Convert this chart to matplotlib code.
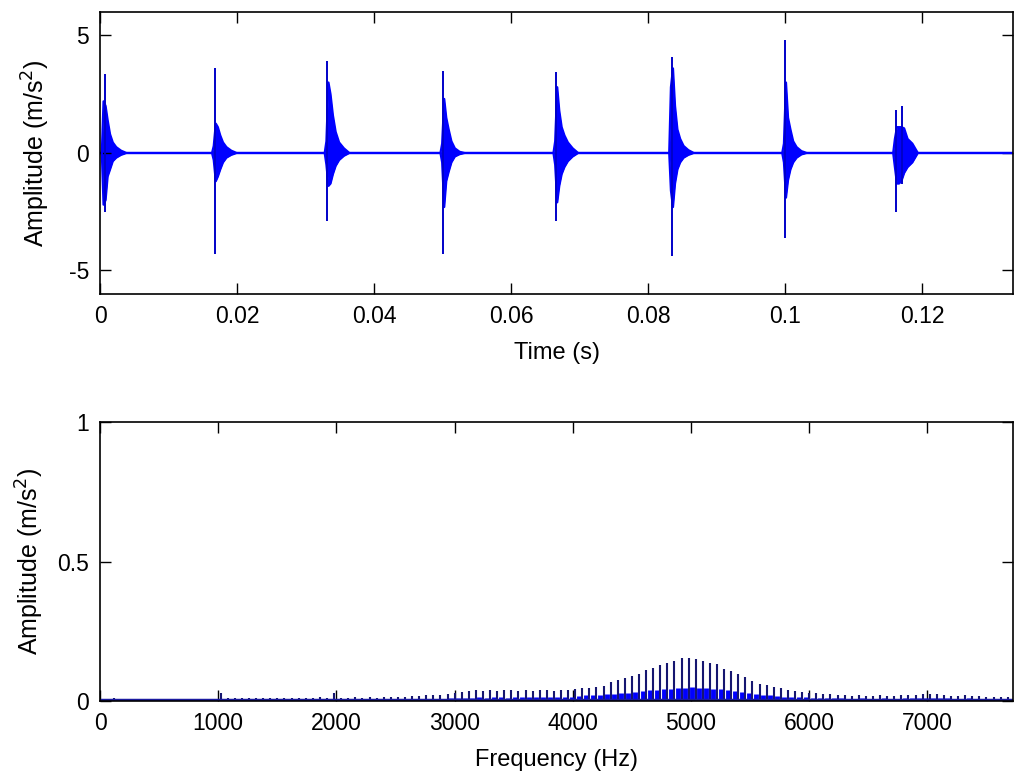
import numpy as np
import matplotlib.pyplot as plt

plt.rcParams['font.family'] = ['Liberation Sans', 'DejaVu Sans']
plt.rcParams['axes.unicode_minus'] = False

# ---- time signal: 8 impact bursts ----
t_end = 0.1333
burst_t = [0.00066, 0.01675, 0.0332, 0.0501, 0.0666, 0.0835, 0.1000, 0.1162]
# envelope sample offsets (ms) relative to each burst's main spike
env_ms = [-0.4, -0.15, 0.15, 0.45, 0.8, 1.2, 1.7, 2.4, 3.2]
env_pos = [
    [0, 2.2, 2.0, 1.4, 0.8, 0.45, 0.25, 0.1, 0],
    [0, 0.3, 1.25, 1.1, 0.75, 0.45, 0.25, 0.1, 0],
    [0, 0.5, 3.0, 2.5, 1.6, 0.9, 0.45, 0.2, 0],
    [0, 0.4, 2.3, 1.5, 1.0, 0.5, 0.2, 0.05, 0],
    [0, 0.5, 2.8, 1.8, 1.1, 0.75, 0.45, 0.2, 0],
    [0, 2.8, 3.6, 2.0, 1.0, 0.6, 0.3, 0.12, 0],
    [0, 0.4, 3.0, 1.5, 1.0, 0.5, 0.25, 0.08, 0],
    [0, 0.6, 1.1, 1.1, 1.1, 1.05, 0.6, 0.4, 0],
]
env_neg = [
    [0, -2.2, -2.0, -1.0, -0.7, -0.35, -0.2, -0.08, 0],
    [0, -0.3, -1.2, -1.0, -0.7, -0.4, -0.2, -0.08, 0],
    [0, -0.5, -1.4, -1.3, -0.9, -0.55, -0.3, -0.12, 0],
    [0, -0.4, -2.3, -1.2, -0.8, -0.4, -0.15, -0.05, 0],
    [0, -0.5, -2.1, -1.4, -0.9, -0.6, -0.35, -0.15, 0],
    [0, -1.6, -2.3, -1.3, -0.7, -0.4, -0.2, -0.08, 0],
    [0, -0.4, -1.9, -1.15, -0.7, -0.4, -0.2, -0.06, 0],
    [0, -0.6, -1.3, -1.3, -1.2, -0.85, -0.6, -0.4, 0],
]
spike_t = [0.00066, 0.01675, 0.0332, 0.0501, 0.0666, 0.0835, 0.1000, 0.1162, 0.1171]
spike_pos = [3.35, 3.6, 3.9, 3.5, 3.45, 4.1, 4.8, 1.85, 2.0]
spike_neg = [-2.5, -4.3, -2.9, -4.3, -2.9, -4.4, -3.6, -2.5, -1.3]

# ---- spectrum: harmonics of the 60 Hz impact rate ----
fault_hz = 60
harm_amp = [
    0.008, 0.010, 0.006, 0.008, 0.005, 0.007, 0.004, 0.006, 0.004, 0.005, 0.003, 0.005, 0.004, 0.005, 0.004, 0.006,
    0.030, 0.011, 0.012, 0.011, 0.012, 0.012, 0.011, 0.012, 0.012, 0.011, 0.012, 0.012, 0.011, 0.012, 0.013, 0.012,
    0.028, 0.012, 0.012, 0.013, 0.012, 0.013, 0.012, 0.014, 0.014, 0.015, 0.016, 0.017, 0.018, 0.020, 0.021, 0.023,
    0.024, 0.030, 0.034, 0.036, 0.038, 0.035, 0.039, 0.037, 0.040, 0.038, 0.036, 0.039, 0.037, 0.040, 0.038, 0.036,
    0.039, 0.041, 0.043, 0.046, 0.048, 0.050, 0.055, 0.070, 0.075, 0.082, 0.090, 0.098, 0.110, 0.118, 0.130, 0.138,
    0.145, 0.153, 0.156, 0.150, 0.143, 0.138, 0.132, 0.115, 0.106, 0.096, 0.086, 0.073, 0.060, 0.056, 0.050, 0.046,
    0.040, 0.035, 0.033, 0.030, 0.028, 0.026, 0.024, 0.022, 0.020, 0.019, 0.020, 0.018, 0.019, 0.020, 0.018, 0.019,
    0.020, 0.021, 0.022, 0.025, 0.026, 0.024, 0.020, 0.019, 0.018, 0.020, 0.017, 0.018, 0.016, 0.015, 0.014, 0.013,
]
# broadband content sitting between the harmonic lines
body_amp = [
    0.006, 0.004, 0.005, 0.003, 0.004, 0.002, 0.003, 0.002, 0.002, 0.002, 0.002, 0.002, 0.002, 0.002, 0.002, 0.003,
    0.004, 0.004, 0.004, 0.005, 0.004, 0.004, 0.005, 0.004, 0.004, 0.005, 0.004, 0.005, 0.004, 0.005, 0.005, 0.005,
    0.006, 0.005, 0.006, 0.006, 0.005, 0.006, 0.006, 0.007, 0.006, 0.007, 0.007, 0.008, 0.007, 0.008, 0.008, 0.009,
    0.010, 0.011, 0.012, 0.011, 0.013, 0.012, 0.013, 0.014, 0.012, 0.014, 0.013, 0.015, 0.014, 0.013, 0.015, 0.014,
    0.015, 0.016, 0.018, 0.020, 0.020, 0.022, 0.024, 0.026, 0.028, 0.030, 0.034, 0.036, 0.038, 0.040, 0.042, 0.044,
    0.046, 0.048, 0.050, 0.048, 0.046, 0.044, 0.042, 0.040, 0.036, 0.032, 0.028, 0.025, 0.022, 0.020, 0.018, 0.016,
    0.015, 0.014, 0.013, 0.012, 0.012, 0.011, 0.010, 0.010, 0.009, 0.009, 0.010, 0.009, 0.009, 0.010, 0.009, 0.009,
    0.010, 0.010, 0.011, 0.012, 0.012, 0.011, 0.010, 0.009, 0.009, 0.010, 0.008, 0.008, 0.008, 0.007, 0.007, 0.006,
]
f_max = 7725

# assemble envelope series
t_list = [-0.001]
p_list = [0.0]
n_list = [0.0]
for bt, ep, en in zip(burst_t, env_pos, env_neg):
    t_list += [bt + m / 1000.0 for m in env_ms]
    p_list += ep
    n_list += en
t_list.append(t_end + 0.001)
p_list.append(0.0)
n_list.append(0.0)
t_sig = np.array(t_list)
p_sig = np.array(p_list)
n_sig = np.array(n_list)

harm_freq = fault_hz * np.arange(1, len(harm_amp) + 1)

fig = plt.figure(figsize=(10.24, 7.79), dpi=100)
ax1 = fig.add_axes([0.0977, 0.6226, 0.8916, 0.362])
ax2 = fig.add_axes([0.0977, 0.1001, 0.8916, 0.358])

fs = 16.5
blue = '#0000ff'
ax1.fill_between(t_sig, n_sig, p_sig, color=blue, lw=0)
ax1.plot(t_sig, p_sig, color=blue, lw=1.6)
ax1.plot(t_sig, n_sig, color=blue, lw=1.6)
ax1.vlines(spike_t, spike_neg, spike_pos, color='#0000c8', lw=1.4)
ax1.set_xlim(0, t_end)
ax1.set_ylim(-6, 6)
ax1.set_xticks([0, 0.02, 0.04, 0.06, 0.08, 0.1, 0.12])
ax1.set_xticklabels(['0', '0.02', '0.04', '0.06', '0.08', '0.1', '0.12'])
ax1.set_yticks([-5, 0, 5])
ax1.set_xlabel('Time (s)', fontsize=fs + 0.5, labelpad=10)
ax1.set_ylabel('Amplitude (m/s$^2$)', fontsize=fs + 1.5, labelpad=12)

ax2.vlines(harm_freq + fault_hz / 2, 0, body_amp, color=blue, lw=3.5)
ax2.vlines(harm_freq, 0, harm_amp, color='#161670', lw=1.5)
ax2.axhline(0.003, color='#1a1aa0', lw=2.5)
ax2.set_xlim(0, f_max)
ax2.set_ylim(0, 1)
ax2.set_xticks(range(0, 8000, 1000))
ax2.set_yticks([0, 0.5, 1])
ax2.set_yticklabels(['0', '0.5', '1'])
ax2.set_xlabel('Frequency (Hz)', fontsize=fs + 0.5, labelpad=10)
ax2.set_ylabel('Amplitude (m/s$^2$)', fontsize=fs + 1.5, labelpad=8)

for ax in (ax1, ax2):
    ax.tick_params(direction='in', length=8, width=1, top=True, right=True,
                   labelsize=fs, pad=8)
    for s in ax.spines.values():
        s.set_linewidth(1.2)

fig.savefig('out.png', dpi=100)
